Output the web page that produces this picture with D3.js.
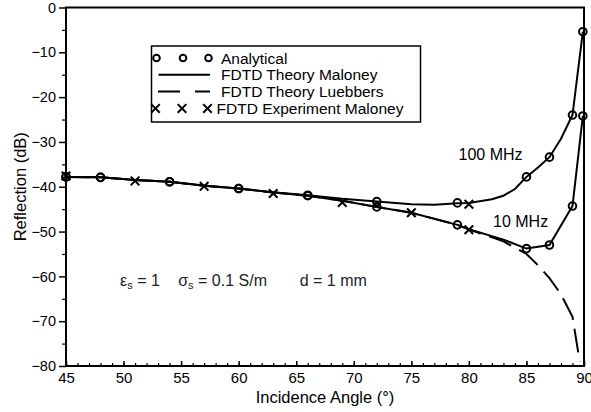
<!DOCTYPE html>
<html>
<head>
<meta charset="utf-8">
<script src="https://cdn.jsdelivr.net/npm/d3@7"></script>
<style>
  body { margin: 0; background: #fff; overflow: hidden; }
  svg { display: block; font-family: 'Liberation Sans', Arial, sans-serif; }
</style>
</head>
<body>
<div id="chart"></div>
<script>
// Analytical (circles)
const anaAngles = [45, 48, 54, 60, 66, 72, 79, 85, 87, 89, 89.9]
const ana100 = [-37.8, -37.9, -38.9, -40.4, -41.9, -43.3, -43.6, -37.8, -33.4, -24.0, -5.4]
const ana10 = [-37.8, -37.9, -38.9, -40.4, -42.0, -44.5, -48.5, -53.8, -53.0, -44.3, -24.2]

// FDTD theory Maloney (solid)
const th100Angles = [45, 48, 51, 54, 57, 60, 63, 66, 69, 72, 75, 77, 79, 80, 82, 83, 84, 85, 86, 87, 88, 89, 89.9]
const th100 = [-37.8, -37.9, -38.5, -38.9, -39.7, -40.4, -41.2, -41.9, -42.7, -43.3, -43.9, -44.0, -43.7, -43.6, -42.8, -42.0, -40.5, -37.8, -35.7, -33.4, -29.3, -24.0, -5.4]
const th10Angles = [45, 48, 51, 54, 57, 60, 63, 66, 69, 72, 75, 79, 80, 83, 85, 87, 89, 89.9]
const th10 = [-37.8, -37.9, -38.5, -38.9, -39.8, -40.4, -41.3, -42.0, -43.1, -44.5, -45.8, -48.5, -49.5, -51.8, -53.8, -53.0, -44.3, -24.2]

// FDTD theory Luebbers (dashed)
const luAngles = [45, 48, 51, 54, 57, 60, 63, 66, 69, 72, 75, 79, 80, 83, 85, 86, 87, 88, 89, 89.5, 89.65]
const lu10 = [-37.8, -37.9, -38.5, -38.9, -39.8, -40.4, -41.3, -42.0, -43.1, -44.5, -45.8, -48.5, -49.5, -52.2, -55.0, -57.5, -60.4, -64.0, -69.0, -77.0, -79.0]

// FDTD experiment Maloney (crosses)
const exp100Angles = [45, 51, 57, 63, 69, 80]
const exp100 = [-37.6, -38.7, -39.9, -41.5, -43.5, -43.9]
const exp10Angles = [75, 80]
const exp10 = [-45.8, -49.6]

const xTicks = [45, 50, 55, 60, 65, 70, 75, 80, 85, 90]
const yTicks = [0, -10, -20, -30, -40, -50, -60, -70, -80]

const legendLabels = ['Analytical', 'FDTD Theory Maloney', 'FDTD Theory Luebbers', 'FDTD Experiment Maloney']

const width = 591
const height = 412
const margin = { top: 7.5, right: 7, bottom: 46, left: 66 }
const innerWidth = width - margin.left - margin.right
const innerHeight = height - margin.top - margin.bottom

const pairs = (xs, ys) => xs.map((x, i) => [x, ys[i]])

const svg = d3.select('#chart').append('svg')
  .attr('width', width)
  .attr('height', height)
  .attr('viewBox', `0 0 ${width} ${height}`)

const g = svg.append('g')
  .attr('transform', `translate(${margin.left},${margin.top})`)

const x = d3.scaleLinear().domain([45, 90]).range([0, innerWidth])
const y = d3.scaleLinear().domain([-80, 0]).range([innerHeight, 0])

// minor ticks
g.append('g')
  .attr('transform', `translate(0,${innerHeight})`)
  .call(d3.axisBottom(x).tickValues(d3.range(45, 91, 1)).tickSizeInner(-3).tickSizeOuter(0))
  .call(a => a.select('.domain').remove())
  .call(a => a.selectAll('text').remove())
  .selectAll('line').attr('stroke-width', 1.2)

g.append('g')
  .call(d3.axisLeft(y).tickValues(d3.range(-75, 0, 10)).tickSizeInner(4).tickSizeOuter(0))
  .call(a => a.select('.domain').remove())
  .call(a => a.selectAll('text').remove())
  .selectAll('line').attr('stroke-width', 1.2)

// major ticks + labels
g.append('g')
  .attr('transform', `translate(0,${innerHeight})`)
  .call(d3.axisBottom(x).tickValues(xTicks).tickSizeInner(-5).tickSizeOuter(0).tickPadding(6).tickFormat(d3.format('d')))
  .call(a => a.select('.domain').remove())
  .call(a => a.selectAll('line').attr('stroke-width', 1.5))
  .call(a => a.selectAll('text').attr('font-size', 15).attr('fill', '#000'))

g.append('g')
  .call(d3.axisLeft(y).tickValues(yTicks).tickSizeInner(7).tickSizeOuter(0).tickPadding(3).tickFormat(d => d === 0 ? '0' : '\u2212' + Math.abs(d)))
  .call(a => a.select('.domain').remove())
  .call(a => a.selectAll('line').attr('stroke-width', 1.5))
  .call(a => a.selectAll('text').attr('font-size', 14.5).attr('fill', '#000'))

// frame
g.append('rect')
  .attr('width', innerWidth)
  .attr('height', innerHeight)
  .attr('fill', 'none')
  .attr('stroke', '#000')
  .attr('stroke-width', 2)

// lines
const line = d3.line().x(d => x(d[0])).y(d => y(d[1]))

g.append('path')
  .datum(pairs(luAngles, lu10))
  .attr('d', line)
  .attr('fill', 'none')
  .attr('stroke', '#000')
  .attr('stroke-width', 2)
  .attr('stroke-dasharray', '24,9')

;[pairs(th100Angles, th100), pairs(th10Angles, th10)].forEach(data => {
  g.append('path')
    .datum(data)
    .attr('d', line)
    .attr('fill', 'none')
    .attr('stroke', '#000')
    .attr('stroke-width', 2)
})

// circles
g.selectAll('.ana')
  .data(pairs(anaAngles, ana100).concat(pairs(anaAngles, ana10)))
  .join('circle')
  .attr('class', 'ana')
  .attr('cx', d => x(d[0]))
  .attr('cy', d => y(d[1]))
  .attr('r', 3.8)
  .attr('fill', 'none')
  .attr('stroke', '#000')
  .attr('stroke-width', 2)

// crosses
const cross = d3.symbol().type(d3.symbolTimes).size(50)
g.selectAll('.exp')
  .data(pairs(exp100Angles, exp100).concat(pairs(exp10Angles, exp10)))
  .join('path')
  .attr('class', 'exp')
  .attr('transform', d => `translate(${x(d[0])},${y(d[1])})`)
  .attr('d', cross)
  .attr('fill', 'none')
  .attr('stroke', '#000')
  .attr('stroke-width', 2)

// annotations
g.append('text').attr('x', x(79.1)).attr('y', y(-34.0)).attr('font-size', 16).text('100 MHz')
g.append('text').attr('x', x(82.1)).attr('y', y(-49.0)).attr('font-size', 16).text('10 MHz')

const params = g.append('text').attr('y', y(-62.2)).attr('font-size', 16).attr('fill', '#222')
params.append('tspan').attr('x', x(49.7)).text('\u03b5')
params.append('tspan').attr('font-size', 11).attr('dy', 3).text('s')
params.append('tspan').attr('dy', -3).text(' = 1')
params.append('tspan').attr('x', x(54.75)).text('\u03c3')
params.append('tspan').attr('font-size', 11).attr('dy', 3).text('s')
params.append('tspan').attr('dy', -3).text(' = 0.1 S/m')
params.append('tspan').attr('x', x(65.3)).text('d = 1 mm')

// axis titles
svg.append('text')
  .attr('x', margin.left + innerWidth / 2)
  .attr('y', 403)
  .attr('text-anchor', 'middle')
  .attr('font-size', 16.5)
  .text('Incidence Angle (\u00b0)')

svg.append('text')
  .attr('transform', `translate(26,${margin.top + innerHeight / 2}) rotate(-90)`)
  .attr('text-anchor', 'middle')
  .attr('font-size', 16.5)
  .text('Reflection (dB)')

// legend
const legend = svg.append('g').attr('transform', 'translate(151.5,46)')
legend.append('rect')
  .attr('width', 269)
  .attr('height', 76)
  .attr('fill', '#fff')
  .attr('stroke', '#000')
  .attr('stroke-width', 1.5)

const rowY = [12, 28.8, 45.6, 62.4]
const textX = [69.5, 69.5, 69.5, 65]
legendLabels.forEach((label, i) => {
  legend.append('text')
    .attr('x', textX[i])
    .attr('y', rowY[i] + 5.5)
    .attr('font-size', 15.5)
    .text(label)
})
;[5, 31.5, 57].forEach(cx => {
  legend.append('circle').attr('cx', cx).attr('cy', rowY[0]).attr('r', 3.3)
    .attr('fill', 'none').attr('stroke', '#000').attr('stroke-width', 2)
  legend.append('path').attr('transform', `translate(${cx - 1},${rowY[3]})`).attr('d', cross)
    .attr('fill', 'none').attr('stroke', '#000').attr('stroke-width', 2)
})
legend.append('line').attr('x1', 7).attr('x2', 58.5).attr('y1', rowY[1]).attr('y2', rowY[1])
  .attr('stroke', '#000').attr('stroke-width', 2)
legend.append('line').attr('x1', 6.5).attr('x2', 58.5).attr('y1', rowY[2]).attr('y2', rowY[2])
  .attr('stroke', '#000').attr('stroke-width', 2).attr('stroke-dasharray', '22,15')
</script>
</body>
</html>
